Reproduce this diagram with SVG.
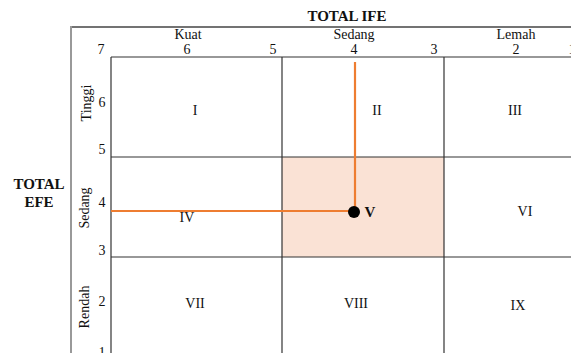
<svg xmlns="http://www.w3.org/2000/svg" width="571" height="353" viewBox="0 0 571 353">
<style>
text{font-family:"Liberation Serif","DejaVu Serif",serif;fill:#111;}
.t{font-size:14px;text-anchor:middle;}
.n{font-size:14px;text-anchor:middle;}
.b{font-size:15px;font-weight:bold;text-anchor:middle;}
.grid{stroke:#333;stroke-width:1.2;fill:none;}
.hl{stroke:#ee7d31;stroke-width:2.2;fill:none;}
</style>
<rect width="571" height="353" fill="#fff"/>
<g id="frame">
<line x1="71" y1="27" x2="571" y2="27" stroke="#444" stroke-width="1.5"/>
<line x1="71" y1="26" x2="71" y2="353" stroke="#999" stroke-width="2"/>
</g>
<g id="headers">
<text class="b" x="347" y="21">TOTAL IFE</text>
<text class="t" x="188" y="39">Kuat</text>
<text class="t" x="354" y="39">Sedang</text>
<text class="t" x="516" y="39">Lemah</text>
<text class="n" x="101" y="54">7</text>
<text class="n" x="187" y="54">6</text>
<text class="n" x="273" y="54">5</text>
<text class="n" x="354" y="54">4</text>
<text class="n" x="434" y="54">3</text>
<text class="n" x="516" y="54">2</text>
<text class="n" x="572" y="54">1</text>
<text class="b" x="39" y="189">TOTAL</text>
<text class="b" x="39" y="207">EFE</text>
<text class="n" x="102" y="107">6</text>
<text class="n" x="102" y="154">5</text>
<text class="n" x="102" y="207">4</text>
<text class="n" x="102" y="255">3</text>
<text class="n" x="102" y="306">2</text>
<text class="n" x="102" y="357">1</text>
<text class="t" transform="translate(91 103) rotate(-90)">Tinggi</text>
<text class="t" transform="translate(89 208) rotate(-90)">Sedang</text>
<text class="t" transform="translate(89 307) rotate(-90)">Rendah</text>
</g>
<g id="cell-V">
<rect x="282" y="157" width="162" height="100" fill="#fae2d5"/>
</g>
<g id="grid">
<line class="grid" x1="111" y1="57" x2="571" y2="57"/>
<line class="grid" x1="111" y1="157" x2="571" y2="157"/>
<line class="grid" x1="111" y1="257" x2="571" y2="257"/>
<line class="grid" x1="111" y1="57" x2="111" y2="353"/>
<line class="grid" x1="282" y1="57" x2="282" y2="353"/>
<line class="grid" x1="444" y1="57" x2="444" y2="353"/>
</g>
<g id="cells">
<text class="t" x="195" y="115">I</text>
<text class="t" x="377" y="115">II</text>
<text class="t" x="515" y="115">III</text>
<text class="t" x="187" y="222">IV</text>
<text class="t" x="525" y="216">VI</text>
<text class="t" x="195" y="308">VII</text>
<text class="t" x="356" y="308">VIII</text>
<text class="t" x="518" y="310">IX</text>
</g>
<g id="connectors">
<line class="hl" x1="355" y1="62" x2="355" y2="211"/>
<line class="hl" x1="111" y1="211" x2="355" y2="211"/>
</g>
<g id="point">
<circle cx="354" cy="212" r="6" fill="#000"/>
<text class="b" font-size="14" x="370" y="217">V</text>
</g>
</svg>
